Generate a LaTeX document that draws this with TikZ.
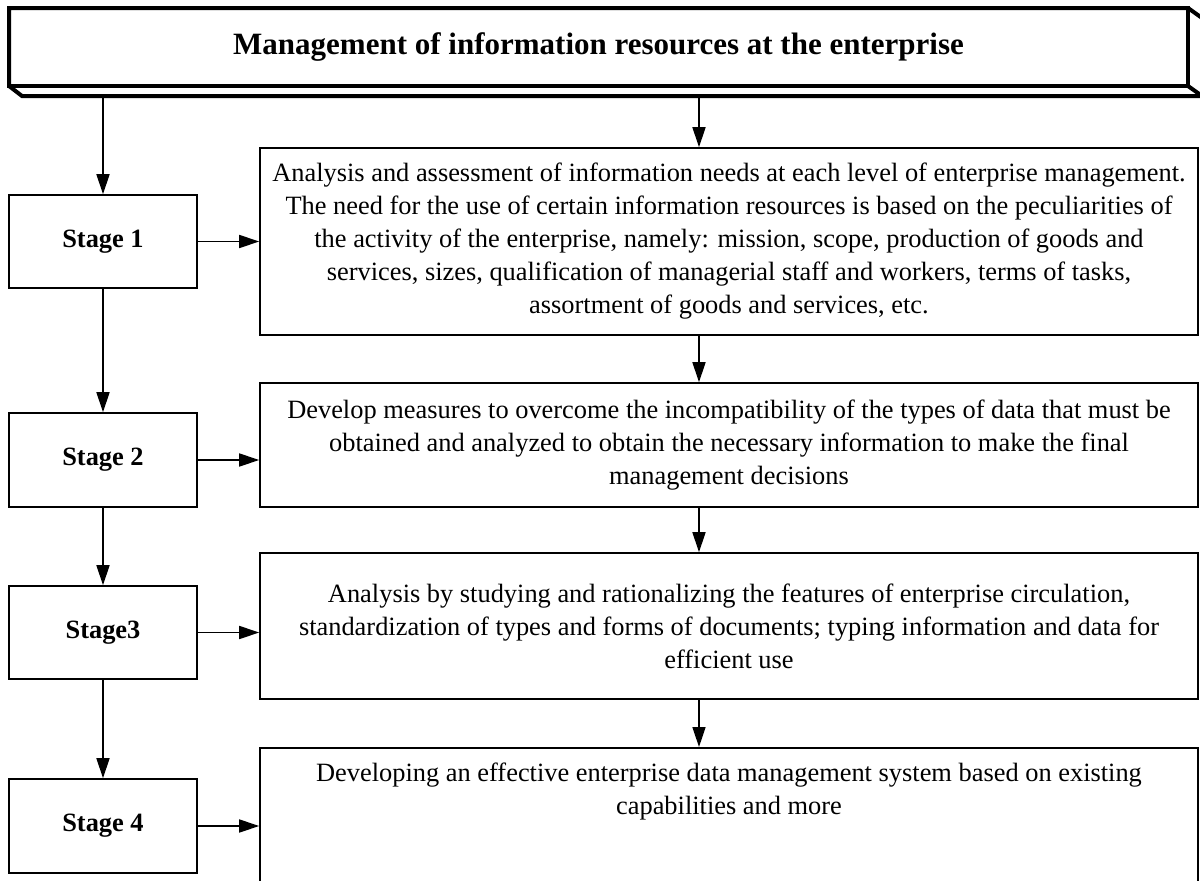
\documentclass[tikz,border=0pt]{standalone}
\usepackage{fontspec}
\setmainfont{Liberation Serif}
\usetikzlibrary{arrows.meta,calc}
\begin{document}
\begin{tikzpicture}[x=1pt,y=-1pt,
  body/.style={font=\fontsize{26.4}{33}\selectfont, align=center},
  stagebox/.style={draw, line width=1.6pt, minimum width=188pt, inner sep=0pt,
    font=\fontsize{26.4}{33}\selectfont\bfseries},
  rbox/.style={draw, line width=1.6pt, minimum width=938pt, inner sep=0pt, body},
  arr/.style={line width=1.6pt, -{Triangle[length=20pt,width=13pt]}},
  bevel/.style={draw, line width=4pt, line join=miter, fill=white}
]
\useasboundingbox (0,0) rectangle (1200,881);
\clip (0,0) rectangle (1200,881);
% bevel title box
\path[bevel] (9,8) -- (1188,8) -- (1202,18) -- (1202,96) -- (22,96) -- (9,86) -- cycle;
\node (title) [draw, line width=4pt, minimum width=1179pt, minimum height=78pt, inner sep=0pt,
  font=\fontsize{31}{36}\selectfont\bfseries] at (598.5,47) {Management of information resources at the enterprise};
\draw[line width=4pt] (1188,86) -- (1202,96);
\coordinate (tb) at (0,96);
\coordinate (cx) at (699,0);
% stage boxes
\node (s1) [stagebox, minimum height=93pt] at (103,241.5) {Stage 1};
\node (s2) [stagebox, minimum height=94pt] at (103,460) {Stage 2};
\node (s3) [stagebox, minimum height=93pt] at (103,632.5) {Stage3};
\node (s4) [stagebox, minimum height=94pt] at (103,826) {Stage 4};
% right boxes
\node (r1) [rbox, minimum height=187pt] at (729,241.5) {Analysis and assessment of information needs at each level of enterprise management.\\
The need for the use of certain information resources is based on the peculiarities of\\
the activity of the enterprise, namely: mission, scope, production of goods and\\
services, sizes, qualification of managerial staff and workers, terms of tasks,\\
assortment of goods and services, etc.};
\node (r2) [rbox, minimum height=124pt] at (729,445) {Develop measures to overcome the incompatibility of the types of data that must be\\
obtained and analyzed to obtain the necessary information to make the final\\
management decisions};
\node (r3) [rbox, minimum height=146pt] at (729,626) {Analysis by studying and rationalizing the features of enterprise circulation,\\
standardization of types and forms of documents; typing information and data for\\
efficient use};
\node (r4) [rbox, minimum height=200pt, anchor=north] at (729,747) {};
\node (t4) [body] at (729,791.5) {Developing an effective enterprise data management system based on existing\\
capabilities and more};
% left chain
\draw[arr] (s1.north |- tb) -- (s1.north);
\draw[arr] (s1.south) -- (s2.north);
\draw[arr] (s2.south) -- (s3.north);
\draw[arr] (s3.south) -- (s4.north);
% horizontal
\draw[arr] (s1.east) -- (s1.east -| r1.west);
\draw[arr] (s2.east) -- (s2.east -| r2.west);
\draw[arr] (s3.east) -- (s3.east -| r3.west);
\draw[arr] (s4.east) -- (s4.east -| r4.west);
% right chain
\draw[arr] (cx |- tb) -- (cx |- r1.north);
\draw[arr] (cx |- r1.south) -- (cx |- r2.north);
\draw[arr] (cx |- r2.south) -- (cx |- r3.north);
\draw[arr] (cx |- r3.south) -- (cx |- r4.north);
\end{tikzpicture}
\end{document}
